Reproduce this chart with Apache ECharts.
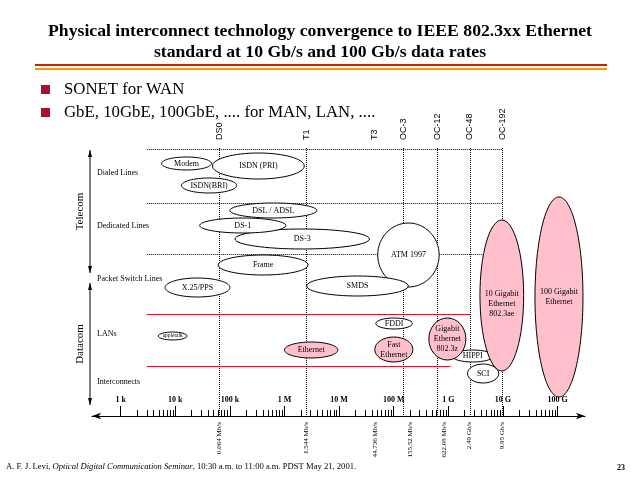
<!DOCTYPE html>
<html>
<head>
<meta charset="utf-8">
<script src="https://cdn.jsdelivr.net/npm/echarts@6/dist/echarts.min.js"></script>
<style>
  html, body { margin: 0; background: #fff; }
  #main { width: 640px; height: 480px; }
</style>
</head>
<body>
<div id="main"></div>
<script>
// rate axis (b/s, log scale)
const majorTicks = [1e3, 1e4, 1e5, 1e6, 1e7, 1e8, 1e9, 1e10, 1e11];
const majorLabels = ['1 k', '10 k', '100 k', '1 M', '10 M', '100 M', '1 G', '10 G', '100 G'];
const minorSteps = [2, 3, 4, 5, 6, 7, 8, 9];
const minorDecades = [3, 4, 5, 6, 7, 8, 9, 10];

// standard line rates
const rateNames = ['DS0', 'T1', 'T3', 'OC-3', 'OC-12', 'OC-48', 'OC-192'];
const rateValues = [6.4e4, 2.5e6, 4.5e7, 1.5e8, 6.3e8, 2.45e9, 9.8e9];
const rateLabels = ['0.064 Mb/s', '1.544 Mb/s', '44.736 Mb/s', '155.52 Mb/s', '622.08 Mb/s', '2.49 Gb/s', '9.95 Gb/s'];
const rateLabelValues = [6.4e4, 2.5e6, 4.5e7, 2.0e8, 8.5e8, 2.45e9, 9.8e9];
const rateHasLine = [true, true, false, true, true, true, true];

// rows (height above the rate axis)
const rowNames = ['Dialed Lines', 'Dedicated Lines', 'Packet Switch Lines', 'LANs', 'Interconnects'];
const rowY = [243, 190, 137, 82, 34];

// separators: [from, to, height]
const dottedFrom = [3.0e3, 3.0e3, 3.0e3];
const dottedTo = [9.8e9, 9.8e9, 9.8e9];
const dottedY = [267, 213, 162];
const redFrom = [3.0e3, 3.0e3];
const redTo = [2.6e9, 1.09e9];
const redY = [102, 50];

// groups
const groupNames = ['Telecom', 'Datacom'];
const groupTop = [266, 133];
const groupBottom = [143, 11];

// technologies: rate span and height span
const ellNames = ['Modem', 'ISDN (PRI)', 'ISDN(BRI)', 'DSL / ADSL', 'DS-3', 'DS-1', 'Frame', 'X.25/PPS',
  'ATM 1997', 'SMDS', 'appletalk', 'Ethernet', 'FDDI', 'Fast\nEthernet', 'HIPPI', 'SCI',
  'Gigabit\nEthernet\n802.3z', '10 Gigabit\nEthernet\n802.3ae', '100 Gigabit\nEthernet'];
const ellX1 = [5.6e3, 4.8e4, 1.3e4, 1.0e5, 1.24e5, 2.8e4, 6.1e4, 6.5e3,
  5.1e7, 2.55e6, 4.9e3, 1.0e6, 4.7e7, 4.5e7, 1.17e9, 2.25e9,
  4.4e8, 3.8e9, 3.87e10];
const ellX2 = [4.6e4, 2.3e6, 1.33e5, 3.9e6, 3.6e7, 1.06e6, 2.7e6, 1.0e5,
  6.8e8, 1.85e8, 1.64e4, 9.5e6, 2.2e8, 2.25e8, 6.7e9, 8.4e9,
  2.1e9, 2.4e10, 2.93e11];
const ellY1 = [246, 237, 223, 198, 167, 183, 141, 119, 129, 120, 76, 58, 87, 54, 54, 33, 56, 45, 19];
const ellY2 = [259, 263, 238, 213, 187, 198, 161, 138, 193, 140, 84, 74, 98, 79, 66, 52, 98, 196, 219];
const ellPink = [0, 0, 0, 0, 0, 0, 0, 0, 0, 0, 0, 1, 0, 1, 0, 0, 1, 1, 1];
const ellTextY = [null, null, null, null, null, null, null, null, null, null, null, null, null, null, null, null, null, 112, null];
const ellFontSize = [8, 8, 8, 8, 8, 8, 8, 8, 8, 8, 5.5, 8, 8, 8, 8, 8, 8, 8, 8];

const X_MIN = 298, X_MAX = 3.19e11;
const Y_MAX = 276;
const LINE_TOP = 268;
const PINK = '#ffc0cb';
const serif = '"Liberation Serif", "Times New Roman", serif';
const sans = '"Liberation Sans", Arial, sans-serif';

const minorTicks = [];
minorDecades.forEach(d => minorSteps.forEach(k => minorTicks.push(k * Math.pow(10, d))));

const chart = echarts.init(document.getElementById('main'));

function renderEllipse(params, api) {
  const i = params.dataIndex;
  const a = api.coord([api.value(0), api.value(2)]);
  const b = api.coord([api.value(1), api.value(3)]);
  const cx = (a[0] + b[0]) / 2;
  const cy = (a[1] + b[1]) / 2;
  const ty = ellTextY[i] != null ? api.coord([api.value(0), ellTextY[i]])[1] : cy;
  return {
    type: 'group',
    children: [{
      type: 'ellipse',
      shape: { cx: cx, cy: cy, rx: Math.abs(b[0] - a[0]) / 2, ry: Math.abs(b[1] - a[1]) / 2 },
      style: { fill: ellPink[i] ? PINK : '#fff', stroke: '#000', lineWidth: 1 }
    }, {
      type: 'text', x: cx, y: ty,
      style: { text: ellNames[i], align: 'center', verticalAlign: 'middle', font: ellFontSize[i] + 'px ' + serif, fill: '#000', lineHeight: 10 }
    }]
  };
}

function renderRate(params, api) {
  const i = params.dataIndex;
  const v = api.value(0);
  const top = api.coord([v, LINE_TOP]);
  const base = api.coord([v, 0]);
  const lab = api.coord([rateLabelValues[i], 0]);
  const children = [];
  if (rateHasLine[i]) {
    children.push({
      type: 'line',
      shape: { x1: Math.round(top[0]) + 0.5, y1: top[1], x2: Math.round(base[0]) + 0.5, y2: base[1] },
      style: { stroke: '#000', lineWidth: 1, lineDash: [1, 1] }
    });
  }
  children.push({
    type: 'text', x: top[0], y: top[1] - 8, rotation: Math.PI / 2,
    style: { text: rateNames[i], align: 'left', verticalAlign: 'middle', font: '9px ' + sans, fill: '#000' }
  });
  children.push({
    type: 'text', x: lab[0], y: lab[1] + 6, rotation: Math.PI / 2,
    style: { text: rateLabels[i], align: 'right', verticalAlign: 'middle', font: '7px ' + serif, fill: '#000' }
  });
  return { type: 'group', children: children };
}

function renderSeparator(params, api) {
  const a = api.coord([api.value(0), api.value(2)]);
  const b = api.coord([api.value(1), api.value(2)]);
  const red = api.value(3) === 1;
  const y = Math.round(a[1]) + 0.5;
  return {
    type: 'line',
    shape: { x1: a[0], y1: y, x2: b[0], y2: y },
    style: red ? { stroke: '#e8102a', lineWidth: 1 } : { stroke: '#000', lineWidth: 1, lineDash: [1, 1] }
  };
}

function renderRow(params, api) {
  const p = api.coord([X_MIN, api.value(0)]);
  return {
    type: 'text', x: params.coordSys.x + 5, y: p[1],
    style: { text: rowNames[params.dataIndex], align: 'left', verticalAlign: 'middle', font: '8px ' + serif, fill: '#000' }
  };
}

function renderGroup(params, api) {
  const i = params.dataIndex;
  const x = params.coordSys.x - 2;
  const t = api.coord([X_MIN, api.value(0)])[1];
  const b = api.coord([X_MIN, api.value(1)])[1];
  return {
    type: 'group',
    children: [{
      type: 'line', shape: { x1: x, y1: t, x2: x, y2: b }, style: { stroke: '#000', lineWidth: 1 }
    }, {
      type: 'polygon', shape: { points: [[x, t], [x - 2, t + 7], [x + 2, t + 7]] }, style: { fill: '#000' }
    }, {
      type: 'polygon', shape: { points: [[x, b], [x - 2, b - 7], [x + 2, b - 7]] }, style: { fill: '#000' }
    }, {
      type: 'text', x: x - 10, y: (t + b) / 2, rotation: Math.PI / 2,
      style: { text: groupNames[i], align: 'center', verticalAlign: 'middle', font: '11px ' + serif, fill: '#000' }
    }]
  };
}

const separatorData = dottedY.map((y, i) => [dottedFrom[i], dottedTo[i], y, 0])
  .concat(redY.map((y, i) => [redFrom[i], redTo[i], y, 1]));

const option = {
  animation: false,
  backgroundColor: '#fff',
  grid: [
    { left: 92, right: 55, top: 140, bottom: 64 },
    { left: 92, right: 55, top: 140, bottom: 64 }
  ],
  xAxis: [{
    type: 'log', logBase: 10, min: X_MIN, max: X_MAX, gridIndex: 0,
    axisLine: { show: true, lineStyle: { color: '#000', width: 1 }, symbol: ['arrow', 'arrow'], symbolSize: [5, 9] },
    axisTick: { show: true, inside: true, length: 10, customValues: majorTicks, lineStyle: { color: '#000' } },
    axisLabel: {
      show: true, inside: true, margin: 12, customValues: majorTicks,
      formatter: v => majorLabels[majorTicks.findIndex(t => Math.abs(Math.log10(t) - Math.log10(v)) < 1e-6)] || '',
      color: '#000', fontSize: 8, fontWeight: 'bold', fontFamily: serif
    },
    splitLine: { show: false }
  }, {
    type: 'log', logBase: 10, min: X_MIN, max: X_MAX, gridIndex: 1,
    axisLine: { show: false },
    axisTick: { show: true, inside: true, length: 6, customValues: minorTicks, lineStyle: { color: '#000' } },
    axisLabel: { show: false },
    splitLine: { show: false }
  }],
  yAxis: [
    { type: 'value', min: 0, max: Y_MAX, gridIndex: 0, show: false },
    { type: 'value', min: 0, max: Y_MAX, gridIndex: 1, show: false }
  ],
  series: [{
    type: 'custom', name: 'separators', renderItem: renderSeparator, data: separatorData, z: 1
  }, {
    type: 'custom', name: 'rates', renderItem: renderRate, data: rateValues.map(v => [v]), z: 2
  }, {
    type: 'custom', name: 'rows', renderItem: renderRow, data: rowY.map(y => [y]), z: 3
  }, {
    type: 'custom', name: 'groups', renderItem: renderGroup,
    data: groupTop.map((t, i) => [t, groupBottom[i]]), z: 3
  }, {
    type: 'custom', name: 'technologies', renderItem: renderEllipse,
    data: ellNames.map((n, i) => [ellX1[i], ellX2[i], ellY1[i], ellY2[i]]), z: 4
  }],
  graphic: [
    { type: 'text', x: 320, y: 31, style: { text: 'Physical interconnect technology convergence to IEEE 802.3xx Ethernet', align: 'center', verticalAlign: 'middle', font: 'bold 17.7px ' + serif, fill: '#000' } },
    { type: 'text', x: 320, y: 52, style: { text: 'standard at 10 Gb/s and 100 Gb/s data rates', align: 'center', verticalAlign: 'middle', font: 'bold 17.7px ' + serif, fill: '#000' } },
    { type: 'line', shape: { x1: 35, y1: 65, x2: 607, y2: 65 }, style: { stroke: '#cc2200', lineWidth: 2 } },
    { type: 'line', shape: { x1: 35, y1: 69, x2: 607, y2: 69 }, style: { stroke: '#ff9900', lineWidth: 2 } },
    { type: 'rect', shape: { x: 41, y: 85, width: 9, height: 9 }, style: { fill: '#a8102c' } },
    { type: 'rect', shape: { x: 41, y: 108, width: 9, height: 9 }, style: { fill: '#a8102c' } },
    { type: 'text', x: 64, y: 90, style: { text: 'SONET for WAN', verticalAlign: 'middle', font: '16.8px ' + serif, fill: '#000' } },
    { type: 'text', x: 64, y: 113, style: { text: 'GbE, 10GbE, 100GbE, .... for MAN, LAN, ....', verticalAlign: 'middle', font: '16.8px ' + serif, fill: '#000' } },
    { type: 'text', x: 6, y: 467, style: {
      text: '{n|A. F. J. Levi, }{i|Optical Digital Communication Seminar}{n|, 10:30 a.m. to 11:00 a.m. PDST May 21, 2001.}',
      verticalAlign: 'middle',
      rich: { n: { font: '8.6px ' + serif, fill: '#000' }, i: { font: 'italic 8.6px ' + serif, fill: '#000' } }
    } },
    { type: 'text', x: 617, y: 468, style: { text: '23', verticalAlign: 'middle', font: 'bold 8px ' + serif, fill: '#000' } }
  ]
};

chart.setOption(option);
</script>
</body>
</html>
